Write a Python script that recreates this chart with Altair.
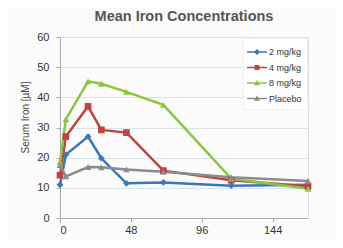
import altair as alt
import pandas as pd

hours = [0, 4, 19, 28, 45, 70, 116, 168]
series_names = ["2 mg/kg", "4 mg/kg", "8 mg/kg", "Placebo"]
iron_2 = [11.0, 21.0, 27.0, 19.8, 11.5, 11.8, 10.7, 11.0]
iron_4 = [14.2, 27.0, 37.0, 29.2, 28.3, 15.7, 12.5, 10.5]
iron_8 = [18.5, 32.8, 45.3, 44.5, 41.8, 37.5, 13.1, 9.7]
iron_placebo = [17.5, 13.8, 16.9, 16.8, 16.1, 15.3, 13.5, 12.3]
x_ticks = [0, 48, 96, 144]
y_ticks = [0, 10, 20, 30, 40, 50, 60]

rows = []
for name, vals in zip(series_names, [iron_2, iron_4, iron_8, iron_placebo]):
    for t, v in zip(hours, vals):
        rows.append({"Hour": t, "Iron": v, "Group": name})
df = pd.DataFrame(rows)

colors = ["#3c74bd", "#bf4440", "#8cc63f", "#8c8c8c"]
shapes = ["diamond", "square", "triangle-up", "triangle-up"]

# legend glyphs: a short line with the marker in the middle
bar = "M-1.25,-0.09L1.25,-0.09L1.25,0.09L-1.25,0.09Z"
legend_shapes = [
    bar + "M0,-0.38L0.38,0L0,0.38L-0.38,0Z",
    bar + "M-0.3,-0.3L0.3,-0.3L0.3,0.3L-0.3,0.3Z",
    bar + "M0,-0.38L0.38,0.28L-0.38,0.28Z",
    bar + "M0,-0.38L0.38,0.28L-0.38,0.28Z",
]

x = alt.X("Hour:Q", scale=alt.Scale(domain=[0, 168], nice=False),
          axis=alt.Axis(values=x_ticks, title=None, grid=False, labelFontSize=11,
                        labelColor="#333", domainColor="#aaa", tickColor="#aaa",
                        tickSize=4, labelPadding=2))
y = alt.Y("Iron:Q", scale=alt.Scale(domain=[0, 60], nice=False),
          axis=alt.Axis(values=y_ticks, title="Serum Iron [µM]", titleFontSize=10,
                        titleFontWeight="normal", titleColor="#444",
                        titleX=-30, titleY=80,
                        labelFontSize=11, labelColor="#333", domainColor="#aaa",
                        tickColor="#aaa", tickSize=4, gridColor="#d6e4f0",
                        labelPadding=7))
leg = alt.Legend(title=None, orient="none", legendX=183, legendY=1,
                 labelFontSize=9, labelColor="#333", symbolSize=256,
                 labelOffset=3, rowPadding=1.5, padding=5,
                 fillColor="white", strokeColor="#f0f0f0")
color_plain = alt.Color("Group:N", scale=alt.Scale(domain=series_names, range=colors),
                        legend=None)
color_leg = alt.Color("Group:N", scale=alt.Scale(domain=series_names, range=colors),
                      legend=leg)
shape_plain = alt.Shape("Group:N", scale=alt.Scale(domain=series_names, range=shapes),
                        legend=None)
shape_leg = alt.Shape("Group:N", scale=alt.Scale(domain=series_names, range=legend_shapes),
                      legend=leg)

base = alt.Chart(df)
lines = base.mark_line(strokeWidth=2.5).encode(x=x, y=y, color=color_plain)
points = base.mark_point(filled=True, size=45, opacity=1).encode(
    x=x, y=y, color=color_plain, shape=shape_plain)
legend_layer = base.transform_filter("datum.Hour < 0").mark_point(
    filled=True, size=256, opacity=1).encode(x=x, y=y, color=color_leg, shape=shape_leg)

chart = alt.layer(lines, points, legend_layer).resolve_scale(
    shape="independent", color="independent").properties(
    width=248, height=181,
    title=alt.TitleParams("Mean Iron Concentrations", fontSize=14.5, fontWeight="bold",
                          color="#555", font="Liberation Sans", offset=7),
    autosize=alt.AutoSizeParams(type="none"),
    padding={"left": 52, "top": 29, "right": 27, "bottom": 22},
    background="#fbfbfb",
).configure_view(stroke=None).configure(font="Liberation Sans")

chart.save("out.html", embed_options={"renderer": "svg", "actions": False})
